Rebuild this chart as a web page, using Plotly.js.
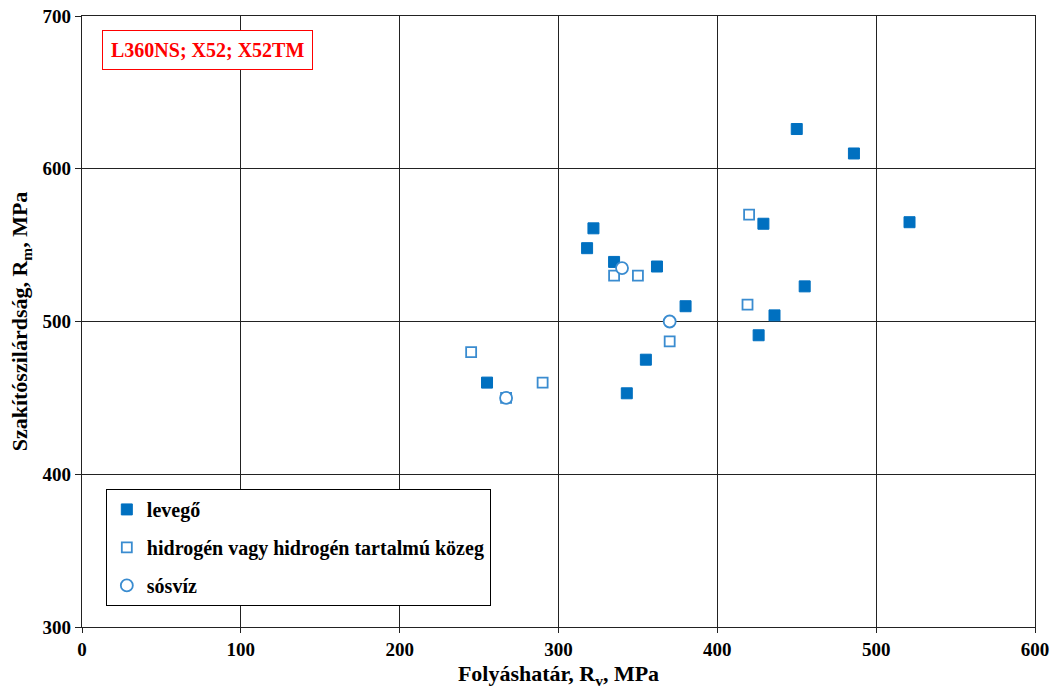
<!DOCTYPE html>
<html>
<head>
<meta charset="utf-8">
<script src="https://cdn.plot.ly/plotly-3.0.1.min.js"></script>
<style>html,body{margin:0;padding:0;background:#fff;}#chart{width:1055px;height:691px;}</style>
</head>
<body>
<div id="chart"></div>
<script>
// levegő (air) – filled squares
const levegoX = [322, 318, 335, 362, 380, 355, 343, 255, 426, 429, 450, 486, 521, 455, 436];
const levegoY = [561, 548, 539, 536, 510, 475, 453, 460, 491, 564, 626, 610, 565, 523, 504];
// hidrogén vagy hidrogén tartalmú közeg – open squares
const hidrogenX = [245, 290, 335, 350, 370, 419, 420, 267];
const hidrogenY = [480, 460, 530, 530, 487, 511, 570, 450];
// sósvíz – open circles
const sosvizX = [340, 370, 267];
const sosvizY = [535, 500, 450];

const xTicks = [0, 100, 200, 300, 400, 500, 600];
const yTicks = [300, 400, 500, 600, 700];

const serif = "Liberation Serif, Times New Roman, serif";

const traces = [
  {x: levegoX, y: levegoY, type: 'scatter', mode: 'markers', name: 'levegő', legendgroup: 'a',
   marker: {symbol: 'square', size: 11, color: '#0070C0', line: {color: '#0070C0', width: 1}}},
  {x: hidrogenX, y: hidrogenY, type: 'scatter', mode: 'markers', name: 'hidrogén vagy hidrogén tartalmú közeg', legendgroup: 'b',
   marker: {symbol: 'square-open', size: 10, color: '#3A8CD0', line: {width: 1.8}}},
  {x: sosvizX, y: sosvizY, type: 'scatter', mode: 'markers', name: 'sósvíz', legendgroup: 'c',
   marker: {symbol: 'circle', size: 12, color: '#ffffff', line: {color: '#3A8CD0', width: 1.8}}}
];

const layout = {
  width: 1055, height: 691,
  margin: {l: 82, r: 20, t: 16, b: 64},
  paper_bgcolor: '#fff', plot_bgcolor: '#fff',
  font: {family: serif, color: '#000'},
  showlegend: true,
  legend: {
    x: 0.025, y: 0.226, xanchor: 'left', yanchor: 'top',
    bordercolor: '#000', borderwidth: 1, bgcolor: '#fff',
    font: {family: serif, size: 20, weight: 700, color: '#000'},
    traceorder: 'grouped', tracegroupgap: 9, itemwidth: 30
  },
  xaxis: {
    range: [0, 600], tickvals: xTicks, ticktext: xTicks.map(String),
    showgrid: true, gridcolor: '#222', gridwidth: 1.4,
    showline: true, linecolor: '#222', linewidth: 1.4, mirror: true,
    ticks: 'outside', ticklen: 5, tickcolor: '#222', zeroline: false,
    tickfont: {family: serif, size: 19, weight: 700, color: '#000'},
    title: {text: 'Folyáshatár, R<sub>v</sub>, MPa', font: {family: serif, size: 22, weight: 700, color: '#000'}, standoff: 6}
  },
  yaxis: {
    range: [300, 700], tickvals: yTicks, ticktext: yTicks.map(String),
    showgrid: true, gridcolor: '#222', gridwidth: 1.4,
    showline: true, linecolor: '#222', linewidth: 1.4, mirror: true,
    ticks: 'outside', ticklen: 6, tickcolor: '#222', zeroline: false,
    tickfont: {family: serif, size: 19, weight: 700, color: '#000'},
    title: {text: 'Szakítószilárdság, R<sub>m</sub>, MPa', font: {family: serif, size: 22, weight: 700, color: '#000'}, standoff: 8}
  },
  annotations: [{
    xref: 'paper', yref: 'paper', x: 0.021, y: 0.977, xanchor: 'left', yanchor: 'top',
    text: 'L360NS; X52; X52TM', showarrow: false,
    font: {family: serif, size: 20, weight: 700, color: '#FF0000'},
    bordercolor: '#FF0000', borderwidth: 1, borderpad: 8, bgcolor: '#fff'
  }]
};

Plotly.newPlot('chart', traces, layout, {displayModeBar: false});
</script>
</body>
</html>
